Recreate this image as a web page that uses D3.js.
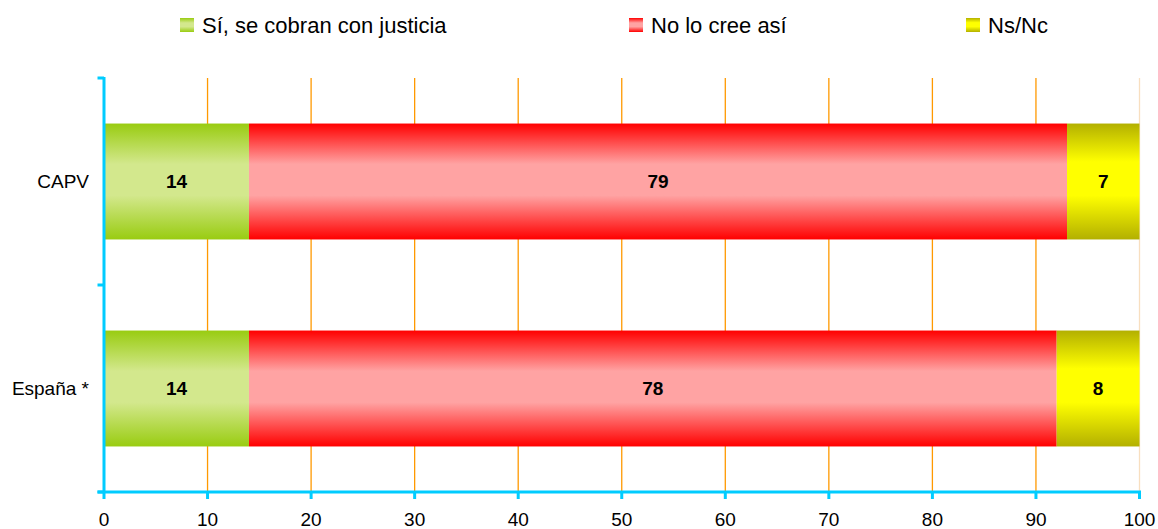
<!DOCTYPE html>
<html><head><meta charset="utf-8">
<script src="https://cdn.jsdelivr.net/npm/d3@7"></script>
<style>body{margin:0;background:#fff}svg{display:block}text{font-family:"Liberation Sans",Arial,sans-serif}</style>
</head><body><svg id="c" width="1158" height="529"></svg>
<script>
const categories = ["CAPV", "España *"];
const seriesNames = ["Sí, se cobran con justicia", "No lo cree así", "Ns/Nc"];
const siValues = [14, 14];
const noValues = [79, 78];
const nsValues = [7, 8];
const xTicks = [0, 10, 20, 30, 40, 50, 60, 70, 80, 90, 100];

const seriesValues = [siValues, noValues, nsValues];
const grads = [
  {id: "g0", edge: "#99CC11", mid: "#D3E88D", a: 0.35, b: 0.62},
  {id: "g1", edge: "#FF0000", mid: "#FFA3A3", a: 0.35, b: 0.62},
  {id: "g2", edge: "#B3B000", mid: "#FFFF00", a: 0.33, b: 0.62}
];

const svg = d3.select("#c");
const defs = svg.append("defs");
grads.forEach(g => {
  const lg = defs.append("linearGradient").attr("id", g.id).attr("x1", 0).attr("y1", 0).attr("x2", 0).attr("y2", 1);
  lg.append("stop").attr("offset", 0).attr("stop-color", g.edge);
  lg.append("stop").attr("offset", g.a).attr("stop-color", g.mid);
  lg.append("stop").attr("offset", g.b).attr("stop-color", g.mid);
  lg.append("stop").attr("offset", 1).attr("stop-color", g.edge);
});

const x = d3.scaleLinear().domain([0, 100]).range([104, 1139.5]);
const y = d3.scaleBand().domain(categories).range([78, 492]).paddingInner(0.44).paddingOuter(0.22);

// grid lines
svg.append("g").selectAll("line").data(xTicks.filter(t => t > 0)).join("line")
  .attr("x1", d => x(d)).attr("x2", d => x(d)).attr("y1", 78).attr("y2", 492)
  .attr("stroke", d => d === 100 ? "#F8DFC0" : "#FF9900").attr("stroke-width", 1.3);

// stacked data
const stacked = categories.map((c, i) => {
  let acc = 0;
  return seriesValues.map((s, k) => {
    const seg = {cat: c, k, x0: acc, x1: acc + s[i], v: s[i]};
    acc += s[i];
    return seg;
  });
}).flat();

const bars = svg.append("g");
bars.selectAll("rect").data(stacked).join("rect")
  .attr("x", d => x(d.x0)).attr("width", d => x(d.x1) - x(d.x0))
  .attr("y", d => y(d.cat)).attr("height", y.bandwidth())
  .attr("fill", d => `url(#${grads[d.k].id})`);
bars.selectAll("text").data(stacked).join("text")
  .attr("x", d => (x(d.x0) + x(d.x1)) / 2).attr("y", d => y(d.cat) + y.bandwidth() / 2)
  .attr("dy", "0.36em").attr("text-anchor", "middle")
  .attr("font-size", 19).attr("font-weight", "bold").attr("fill", "#000")
  .text(d => d.v);

// axes
const axisColor = "#00CCFF";
const ax = svg.append("g");
ax.append("line").attr("x1", 104).attr("x2", 104).attr("y1", 77).attr("y2", 493)
  .attr("stroke", axisColor).attr("stroke-width", 3);
ax.append("line").attr("x1", 97.5).attr("x2", 1141).attr("y1", 492).attr("y2", 492)
  .attr("stroke", axisColor).attr("stroke-width", 3);
const step = y.step();
const yTickPos = [78, y(categories[0]) + y.bandwidth() + step * y.paddingInner() / 2, 492];
ax.selectAll(".yt").data(yTickPos).join("line").attr("class", "yt")
  .attr("x1", 97.5).attr("x2", 104).attr("y1", d => d).attr("y2", d => d)
  .attr("stroke", axisColor).attr("stroke-width", 3);
ax.selectAll(".xt").data(xTicks).join("line").attr("class", "xt")
  .attr("x1", d => x(d)).attr("x2", d => x(d)).attr("y1", 492).attr("y2", 499)
  .attr("stroke", axisColor).attr("stroke-width", 3);
ax.selectAll(".xl").data(xTicks).join("text").attr("class", "xl")
  .attr("x", d => x(d)).attr("y", 526).attr("text-anchor", "middle")
  .attr("font-size", 19).attr("fill", "#000").text(d => d);
ax.selectAll(".yl").data(categories).join("text").attr("class", "yl")
  .attr("x", 89).attr("y", d => y(d) + y.bandwidth() / 2).attr("dy", "0.36em")
  .attr("text-anchor", "end").attr("font-size", 19).attr("fill", "#000").text(d => d);

// legend
const legX = [180, 629, 966];
const leg = svg.append("g");
seriesNames.forEach((n, k) => {
  leg.append("rect").attr("x", legX[k]).attr("y", 18).attr("width", 14).attr("height", 14)
    .attr("fill", `url(#${grads[k].id})`);
  leg.append("text").attr("x", legX[k] + 22).attr("y", 33).attr("font-size", 22)
    .attr("fill", "#000").text(n);
});
</script></body></html>
